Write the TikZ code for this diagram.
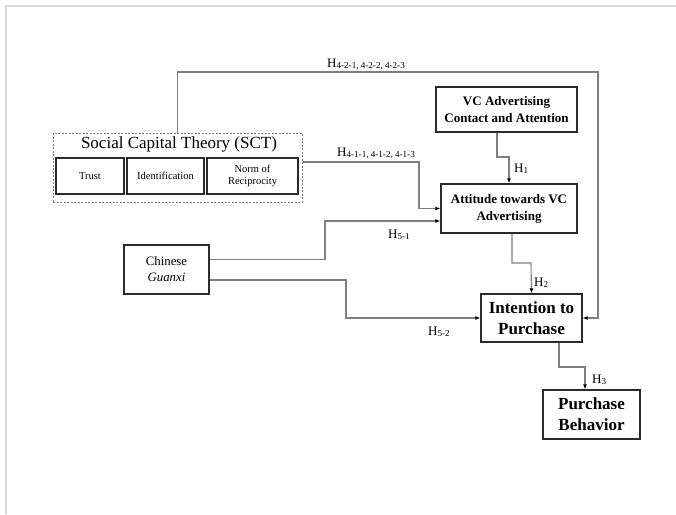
\documentclass[tikz,border=0pt]{standalone}
\usepackage{fontspec}
\setmainfont{Liberation Serif}
\usetikzlibrary{arrows.meta}
\definecolor{conn}{HTML}{7F7F7F}
\definecolor{framec}{HTML}{D9D9D9}
\definecolor{boxc}{HTML}{2B2B2B}
\tikzset{
  box/.style={draw=boxc, line width=1.3pt, align=center, inner sep=1pt},
  subbox/.style={draw=boxc, line width=1.2pt, align=center, inner sep=0pt, font=\fontsize{10.5}{12}\selectfont},
  conn/.style={draw=conn, line width=1.1pt, -{Latex[length=5pt,width=4pt,color=black]}},
  lab/.style={inner sep=0pt, anchor=base west, font=\fontsize{13}{15}\selectfont},
}
\begin{document}
\begin{tikzpicture}[x=1pt,y=-1pt]
\useasboundingbox (0,0) rectangle (676,514);
% frame
\draw[framec, line width=1.6pt] (6,514) -- (6,6) -- (676,6);

% SCT group
\node[draw=conn, line width=1pt, dash pattern=on 2pt off 1.5pt, minimum width=249pt, minimum height=69pt, inner sep=0pt] (sct) at (177.5,167.5) {};
\node[inner sep=0pt, font=\fontsize{17}{20}\selectfont] (scttitle) at (179,144) {Social Capital Theory (SCT)};
\node[subbox, minimum width=68pt, minimum height=36pt] (trust) at (90,176) {Trust};
\node[subbox, minimum width=77pt, minimum height=36pt] (ident) at (165.5,176) {Identification};
\node[subbox, minimum width=91pt, minimum height=36pt] (norm) at (252.5,176) {Norm of\\Reciprocity};

% main boxes
\node[box, minimum width=141pt, minimum height=45pt, font=\bfseries\fontsize{13}{17}\selectfont] (vc) at (506.5,109.5) {VC Advertising\\Contact and Attention};
\node[box, minimum width=136pt, minimum height=49pt, font=\bfseries\fontsize{13}{17}\selectfont] (att) at (509,208.5) {Attitude towards VC\\Advertising};
\node[box, minimum width=85pt, minimum height=49pt, font=\fontsize{12.8}{16}\selectfont] (gx) at (166.5,269.5) {Chinese\\\textit{Guanxi}};
\node[box, minimum width=101pt, minimum height=48pt, font=\bfseries\fontsize{17}{21}\selectfont] (int) at (531.5,318) {Intention to\\Purchase};
\node[box, minimum width=97pt, minimum height=49pt, font=\bfseries\fontsize{17}{21}\selectfont] (pb) at (591.5,414.5) {Purchase\\Behavior};

% turning points
\coordinate (ctop) at (598,72);
\coordinate (c41) at (419,162);
\coordinate (c51) at (325,221);
\coordinate (c52) at (346,318);
\coordinate (c1) at (509,157);
\coordinate (c2) at (531,263);
\coordinate (c3) at (585,367);

% connectors
\draw[conn] (sct.north) |- (ctop) |- (int.east);
\draw[conn] ([yshift=5.5pt]sct.east) -- (c41) |- (att.west);
\draw[conn] ([yshift=10pt]gx.east) -| (c51) -- ([yshift=-12.5pt]att.west);
\draw[conn] ([yshift=-10.5pt]gx.east) -| (c52) -- (int.west);
\draw[conn] ([xshift=-9.5pt]vc.south) |- (c1) -- (att.north);
\draw[conn] ([xshift=3pt]att.south) |- (c2) -- (int.north);
\draw[conn] ([xshift=27.5pt]int.south) |- (c3) -- ([xshift=-6.5pt]pb.north);

% labels
\node[lab] (l42) at (327,67) {H\textsubscript{4-2-1, 4-2-2, 4-2-3}};
\node[lab] (l41) at (337,156) {H\textsubscript{4-1-1, 4-1-2, 4-1-3}};
\node[lab] (l1) at (514,172) {H\textsubscript{1}};
\node[lab] (l51) at (388,238) {H\textsubscript{5-1}};
\node[lab] (l52) at (428,335) {H\textsubscript{5-2}};
\node[lab] (l2) at (534,286) {H\textsubscript{2}};
\node[lab] (l3) at (592,383) {H\textsubscript{3}};
\end{tikzpicture}
\end{document}
